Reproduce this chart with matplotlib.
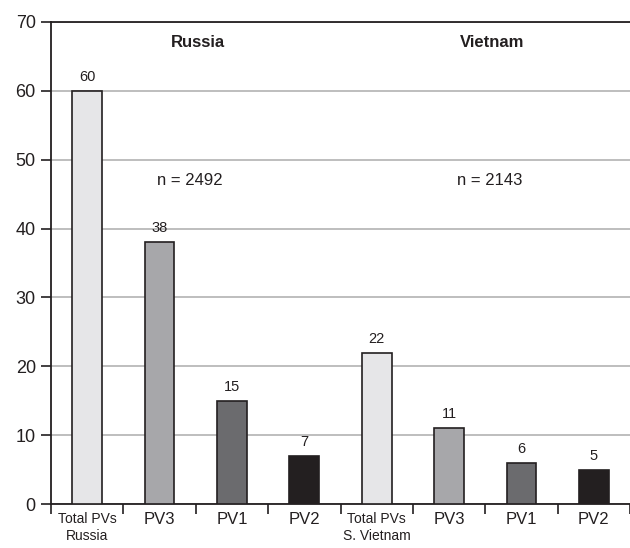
import matplotlib

matplotlib.use("Agg")
import matplotlib.pyplot as plt
import numpy as np

plt.rcParams["font.family"] = ["Liberation Sans", "DejaVu Sans"]

categories = ["Total PVs\nRussia", "PV3", "PV1", "PV2",
              "Total PVs\nS. Vietnam", "PV3", "PV1", "PV2"]
values = [60, 38, 15, 7, 22, 11, 6, 5]
colors = ["#e6e6e8", "#a7a7aa", "#6b6b6e", "#231f20",
          "#e6e6e8", "#a7a7aa", "#6b6b6e", "#231f20"]
groups = ["Russia", "Vietnam"]
group_n = ["n = 2492", "n = 2143"]

fig = plt.figure(figsize=(6.3, 5.48), dpi=100)
ax = fig.add_axes([0.081, 0.080, 0.919, 0.880])

x = np.arange(len(values))
ax.bar(x, values, width=0.41, color=colors, edgecolor="#231f20",
       linewidth=1.2, zorder=3)
for xi, v in zip(x, values):
    ax.text(xi, v + 1.0, str(v), ha="center", va="bottom", fontsize=10.5,
            color="#231f20")

ax.set_xlim(-0.5, len(values) - 0.5)
ax.set_ylim(0, 70)
ax.set_yticks(range(0, 71, 10))
ax.tick_params(axis="y", labelsize=13, length=7, width=1.2, colors="#231f20",
               pad=4)
ax.yaxis.grid(True, color="#b3b3b3", linewidth=1.2, zorder=0)
ax.set_axisbelow(True)

# category boundary ticks below the axis, labels at centres
ax.set_xticks(np.arange(-0.5, len(values), 1.0))
ax.set_xticklabels([])
ax.tick_params(axis="x", which="major", length=7, width=1.2,
               colors="#231f20", direction="out")
ax.set_xticks(x, minor=True)
ax.set_xticklabels(categories, minor=True)
ax.tick_params(axis="x", which="minor", length=0, pad=6, colors="#231f20")
for lab in ax.get_xticklabels(minor=True):
    if "\n" in lab.get_text():
        lab.set_fontsize(10)
    else:
        lab.set_fontsize(12)

for side in ("left", "bottom", "top"):
    ax.spines[side].set_linewidth(1.3)
    ax.spines[side].set_color("#231f20")
ax.spines["right"].set_visible(False)

for gx, nx, name, n in zip([1.53, 5.6], [1.42, 5.56], groups, group_n):
    ax.text(gx, 67.0, name, ha="center", va="center", fontsize=12,
            fontweight="bold", color="#231f20")
    ax.text(nx, 47.0, n, ha="center", va="center", fontsize=12,
            color="#231f20")

fig.savefig("out.png", dpi=100)
